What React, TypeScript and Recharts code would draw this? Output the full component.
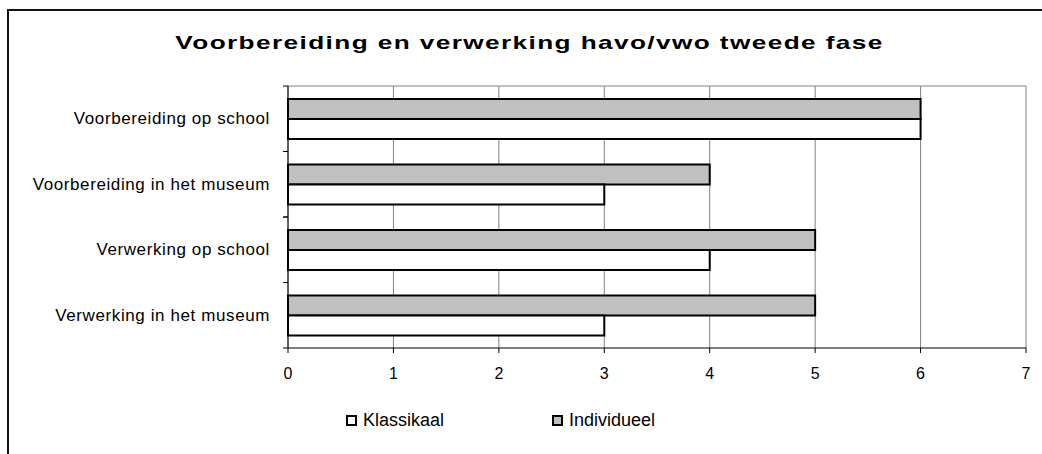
import React from "react";
import { BarChart, Bar, XAxis, YAxis, CartesianGrid, Legend } from "recharts";

const categories = [
  "Voorbereiding op school",
  "Voorbereiding in het museum",
  "Verwerking op school",
  "Verwerking in het museum",
];
const klassikaal = [6, 3, 4, 3];
const individueel = [6, 4, 5, 5];
const xTicks = [0, 1, 2, 3, 4, 5, 6, 7];

const data = categories.map((name, i) => ({
  name,
  Klassikaal: klassikaal[i],
  Individueel: individueel[i],
}));

const FONT = 'Arial, "Liberation Sans", sans-serif';

function CategoryTick(props: any) {
  const { x, y, payload } = props;
  const half = payload?.offset ?? 0;
  const axisX = x + 18;
  return (
    <g>
      <text
        x={x}
        y={y}
        textAnchor="end"
        dominantBaseline="central"
        fill="#000"
        fontSize={17}
        fontFamily={FONT}
        letterSpacing={0.6}
      >
        {payload.value}
      </text>
      <line x1={axisX - 5} x2={axisX} y1={y - half} y2={y - half} stroke="#000" />
      <line x1={axisX - 5} x2={axisX} y1={y + half} y2={y + half} stroke="#000" />
    </g>
  );
}

function LegendContent(props: any) {
  const items = [...(props.payload || [])].reverse();
  return (
    <div style={{ display: "flex", fontFamily: FONT, fontSize: 18, color: "#000" }}>
      {items.map((it: any) => (
        <div key={it.value} style={{ display: "flex", alignItems: "center", width: 206 }}>
          <span
            style={{
              display: "inline-block",
              width: 11,
              height: 11,
              boxSizing: "border-box",
              border: "2px solid #000",
              background: it.payload?.fill ?? it.color,
              marginRight: 6,
            }}
          />
          <span>{it.value}</span>
        </div>
      ))}
    </div>
  );
}

export default function App() {
  return (
    <div style={{ position: "absolute", left: 0, top: 0, width: 1042, height: 454, overflow: "hidden", background: "#fff" }}>
      <div
        style={{
          position: "absolute",
          left: 7,
          top: 9,
          width: 1100,
          height: 500,
          borderLeft: "2px solid #111",
          borderTop: "2px solid #111",
        }}
      />
      <div
        style={{
          position: "absolute",
          left: 0,
          top: 32,
          width: 1059,
          textAlign: "center",
          fontFamily: FONT,
          fontWeight: "bold",
          fontSize: 19,
          letterSpacing: 1,
          color: "#000",
          transform: "scaleX(1.38)",
          transformOrigin: "529.5px 0",
        }}
      >
        Voorbereiding en verwerking havo/vwo tweede fase
      </div>
      <div style={{ position: "absolute", left: 0, top: 0 }}>
        <BarChart
          width={1042}
          height={454}
          data={data}
          layout="vertical"
          margin={{ top: 86, right: 16, left: 0, bottom: 76 }}
          barGap={0}
          barCategoryGap="20%"
        >
          <CartesianGrid
            stroke="#808080"
            horizontalCoordinatesGenerator={({ offset }: any) => [offset.top]}
          />
          <XAxis
            type="number"
            domain={[0, 7]}
            ticks={xTicks}
            height={30}
            axisLine={{ stroke: "#000" }}
            tickLine={{ stroke: "#000" }}
            tickSize={5}
            tickMargin={15}
            tick={{ fill: "#000", fontSize: 16, fontFamily: FONT }}
          />
          <YAxis
            type="category"
            dataKey="name"
            width={288}
            axisLine={{ stroke: "#000" }}
            tickLine={false}
            tickSize={0}
            tickMargin={18}
            tick={<CategoryTick />}
            interval={0}
          />
          <Legend
            layout="horizontal"
            verticalAlign="middle"
            align="center"
            wrapperStyle={{ top: 410, left: 346, width: 500 }}
            content={<LegendContent />}
          />
          <Bar dataKey="Individueel" fill="#C0C0C0" stroke="#000" strokeWidth={2} isAnimationActive={false} />
          <Bar dataKey="Klassikaal" fill="#FFFFFF" stroke="#000" strokeWidth={2} isAnimationActive={false} />
        </BarChart>
      </div>
    </div>
  );
}
